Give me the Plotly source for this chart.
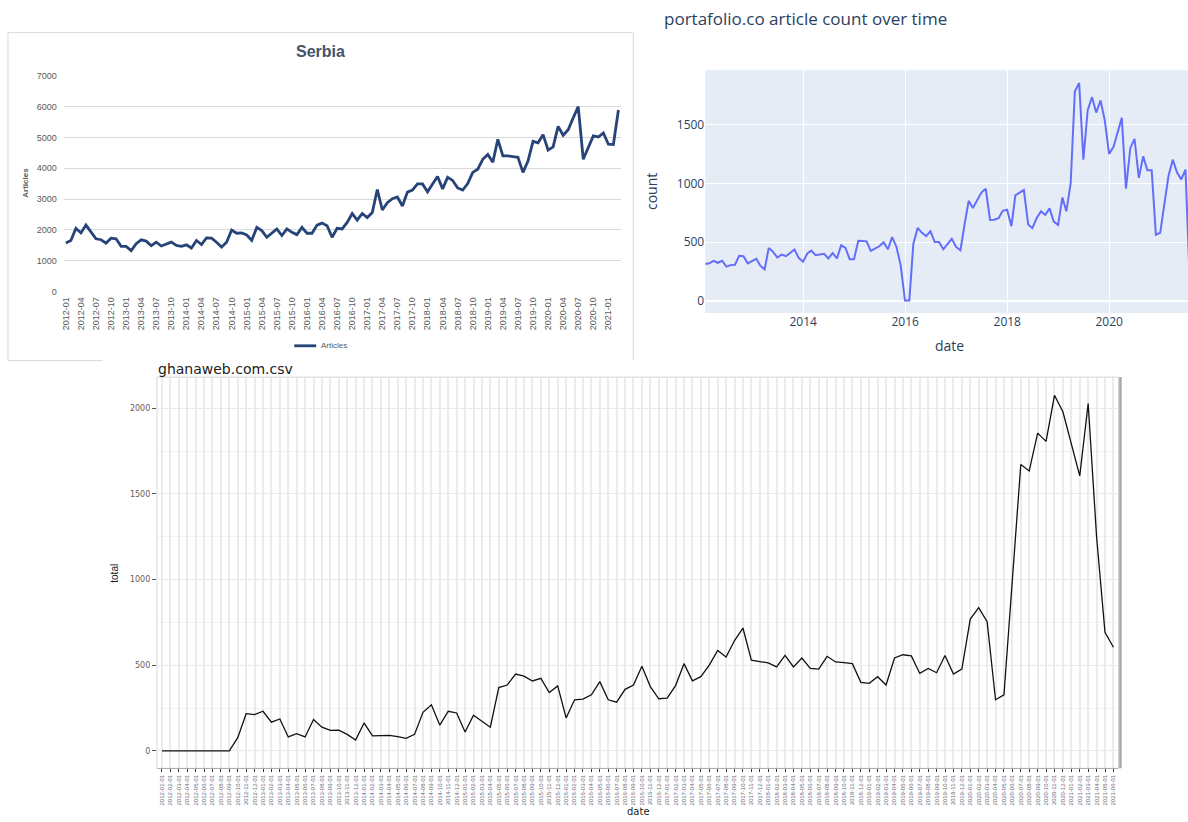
import calendar
import plotly.graph_objects as go

W, H = 1188, 822


def px(x):
    return x / W


def py(y):
    return 1 - y / H


# ---------------- Serbia (monthly, 2012-01 .. 2021-03) ----------------
serbia_months = [f"{y}-{m:02d}" for y in range(2012, 2022) for m in range(1, 13)][:111]
serbia_articles = [
    1570, 1655, 2050, 1900, 2155, 1945, 1710, 1680, 1570, 1730, 1710, 1465,
    1465, 1325, 1550, 1675, 1635, 1485, 1600, 1475, 1525, 1600, 1495, 1465,
    1515, 1410, 1655, 1525, 1740, 1730, 1600, 1440, 1600, 1995, 1890, 1900,
    1835, 1655, 2080, 1975, 1760, 1890, 2030, 1815, 2030, 1920, 1845, 2080,
    1890, 1890, 2155, 2220, 2135, 1760, 2050, 2030, 2240, 2530, 2315, 2530,
    2400, 2560, 3310, 2645, 2880, 3010, 3065, 2775, 3225, 3290, 3490, 3490,
    3235, 3490, 3735, 3330, 3705, 3605, 3360, 3290, 3500, 3865, 3970, 4290,
    4450, 4195, 4940, 4400, 4400, 4375, 4355, 3865, 4235, 4875, 4825, 5090,
    4590, 4695, 5360, 5070, 5250, 5635, 6000, 4290, 4695, 5050, 5015, 5145,
    4780, 4770, 5890,
]
serbia_ticks = serbia_months[::3]

# ---------------- portafolio.co (month-end, 2012-01 .. 2021-07) ----------------
portafolio_counts = [
    312, 318, 340, 323, 340, 290, 303, 306, 382, 379, 318, 340,
    357, 298, 267, 450, 416, 368, 393, 379, 405, 436, 365, 332,
    402, 427, 388, 393, 399, 360, 405, 360, 472, 450, 354, 354,
    511, 509, 506, 424, 444, 464, 497, 438, 542, 458, 303, 0,
    0, 486, 621, 579, 551, 593, 500, 500, 438, 486, 528, 458,
    430, 640, 852, 790, 852, 922, 956, 689, 691, 703, 767, 776,
    635, 899, 922, 944, 649, 618, 705, 762, 731, 787, 675, 646,
    880, 762, 1000, 1787, 1858, 1203, 1625, 1737, 1605, 1709, 1540, 1253,
    1310, 1442, 1560, 956, 1301, 1380, 1048, 1231, 1113, 1113, 562, 579,
    838, 1062, 1203, 1096, 1034, 1119, 150,
]
portafolio_dates = []
for i in range(len(portafolio_counts)):
    yy, mm = 2012 + i // 12, i % 12 + 1
    portafolio_dates.append(f"{yy}-{mm:02d}-{calendar.monthrange(yy, mm)[1]:02d}")
portafolio_yticks = [0, 500, 1000, 1500]

# ---------------- ghanaweb.com (monthly, 2012-01 .. 2021-06) ----------------
ghana_dates = [f"{y}-{m:02d}-01" for y in range(2012, 2022) for m in range(1, 13)][:114]
ghana_total = [
    0, 0, 0, 0, 0, 0, 0, 0, 0,
    77, 217, 211, 231, 167, 186, 81, 100, 81, 183,
    138, 119, 121, 96, 63, 163, 87, 87, 90, 83,
    73, 96, 225, 269, 150, 231, 221, 110, 208, 173,
    138, 369, 384, 448, 436, 408, 423, 340, 379, 192,
    298, 302, 327, 404, 298, 284, 359, 384, 494, 375,
    304, 308, 381, 509, 409, 433, 500, 586, 548, 644,
    717, 529, 523, 513, 490, 557, 490, 542, 481, 477,
    552, 519, 515, 509, 400, 394, 433, 384, 542, 561,
    554, 452, 481, 456, 557, 448, 477, 769, 836, 754,
    298, 327, 1000, 1672, 1634, 1855, 1807, 2076, 1980, 1788,
    1605, 2028, 1250, 692, 605,
]
ghana_yticks = [0, 500, 1000, 1500, 2000]

SERBIA_BLUE = "#264478"
XL_GREY = "#595959"

fig = go.Figure()
fig.add_trace(go.Scatter(x=serbia_months, y=serbia_articles, mode="lines",
                         line=dict(color=SERBIA_BLUE, width=2.8),
                         xaxis="x", yaxis="y", showlegend=False, name="Articles"))
fig.add_trace(go.Scatter(x=portafolio_dates, y=portafolio_counts, mode="lines",
                         line=dict(color="#636EFA", width=2),
                         xaxis="x2", yaxis="y2", showlegend=False, name="count"))
fig.add_trace(go.Scatter(x=ghana_dates, y=ghana_total, mode="lines",
                         line=dict(color="#111111", width=1.3),
                         xaxis="x3", yaxis="y3", showlegend=False, name="total"))

fig.update_layout(
    width=W, height=H,
    margin=dict(l=0, r=0, t=0, b=0),
    paper_bgcolor="white", plot_bgcolor="rgba(0,0,0,0)",
    showlegend=False,
    # Serbia
    xaxis=dict(domain=[px(61), px(620)], anchor="y", type="category",
               range=[-0.4, 110.6], tickmode="array", tickvals=serbia_ticks,
               tickangle=-90, tickfont=dict(family="Liberation Sans", size=9, color=XL_GREY),
               showgrid=False, zeroline=False, showline=False, ticks="",
               ticklabelstandoff=3),
    yaxis=dict(domain=[py(290), py(71.7)], anchor="x", range=[0, 7000],
               tickmode="array", tickvals=list(range(0, 7001, 1000)),
               tickfont=dict(family="Liberation Sans", size=9, color=XL_GREY),
               showgrid=True, gridcolor="#D9D9D9", gridwidth=1, zeroline=False,
               showline=False, ticks="", ticklabelstandoff=6),
    # portafolio
    xaxis2=dict(domain=[px(704), 1.0], anchor="y2", type="date",
                range=["2012-01-31", "2021-07-18"], tick0="2014-01-01", dtick="M24",
                tickformat="%Y",
                tickfont=dict(family="Open Sans", size=12, color="#2a3f5f"),
                showgrid=True, gridcolor="white", gridwidth=1, zeroline=False,
                showline=False, ticks=""),
    yaxis2=dict(domain=[py(311.7), py(66)], anchor="x2", range=[-105, 1967],
                tickmode="array", tickvals=portafolio_yticks,
                tickfont=dict(family="Open Sans", size=12, color="#2a3f5f"),
                showgrid=True, gridcolor="white", gridwidth=1,
                zeroline=True, zerolinecolor="white", zerolinewidth=2,
                showline=False, ticks=""),
    # ghanaweb
    xaxis3=dict(domain=[px(154.3), px(1118.3)], anchor="y3", type="category",
                range=[-0.6, 113.6], tickmode="array", tickvals=ghana_dates,
                ticktext=ghana_dates, tickangle=-90,
                tickfont=dict(family="Liberation Sans", size=6, color="#6a6a7a"),
                showgrid=True, gridcolor="#EBEBEB", gridwidth=2, zeroline=False,
                showline=True, linecolor="#222222", linewidth=1.2,
                ticks="outside", ticklen=3, tickcolor="#333333", tickwidth=1),
    yaxis3=dict(domain=[py(772.7), py(376.7)], anchor="x3", range=[-102, 2182],
                tickmode="array", tickvals=ghana_yticks,
                tickfont=dict(family="DejaVu Sans", size=8, color="#6b5a5a"),
                showgrid=True, gridcolor="#EBEBEB", gridwidth=1,
                minor=dict(dtick=250, tick0=0, showgrid=True, gridcolor="#F3F3F3", gridwidth=1),
                zeroline=False, showline=False,
                ticks="outside", ticklen=4, tickcolor="#555555", tickwidth=1),
)

shapes = [
    # Serbia chart frame
    dict(type="line", xref="paper", yref="paper", x0=px(5), x1=px(632), y0=py(28), y1=py(28),
         line=dict(color="#D9D9D9", width=1)),
    dict(type="line", xref="paper", yref="paper", x0=px(5), x1=px(5), y0=py(28), y1=py(360),
         line=dict(color="#D9D9D9", width=1)),
    dict(type="line", xref="paper", yref="paper", x0=px(632), x1=px(632), y0=py(28), y1=py(360),
         line=dict(color="#D9D9D9", width=1)),
    dict(type="line", xref="paper", yref="paper", x0=px(5), x1=px(100), y0=py(360), y1=py(360),
         line=dict(color="#D9D9D9", width=1)),
    # Serbia legend swatch
    dict(type="line", xref="paper", yref="paper", x0=px(292), x1=px(314), y0=py(345), y1=py(345),
         line=dict(color=SERBIA_BLUE, width=2.8)),
    # portafolio plot background
    dict(type="rect", xref="x2 domain", yref="y2 domain", x0=0, x1=1, y0=0, y1=1,
         fillcolor="#E5ECF6", line=dict(width=0), layer="below"),
    # ghanaweb panel border
    dict(type="rect", xref="x3 domain", yref="y3 domain", x0=0, x1=1, y0=0, y1=1,
         line=dict(color="#D4D4D4", width=1), layer="above"),
    dict(type="line", xref="x3 domain", yref="y3 domain", x0=1.002, x1=1.002, y0=0, y1=1,
         line=dict(color="#A8A8A8", width=2.5)),
]
fig.update_layout(shapes=shapes)

annotations = [
    dict(text="<b>Serbia</b>", x=px(318), y=py(47), xref="paper", yref="paper",
         showarrow=False, xanchor="center", yanchor="middle",
         font=dict(family="Liberation Sans", size=16, color="#44546A")),
    dict(text="<b>Articles</b>", x=px(23), y=py(180), xref="paper", yref="paper",
         showarrow=False, textangle=-90, xanchor="center", yanchor="middle",
         font=dict(family="Liberation Sans", size=8, color=XL_GREY)),
    dict(text="Articles", x=px(317), y=py(345), xref="paper", yref="paper",
         showarrow=False, xanchor="left", yanchor="middle",
         font=dict(family="Liberation Sans", size=8, color=XL_GREY)),
    dict(text="portafolio.co article count over time", x=px(661), y=py(14),
         xref="paper", yref="paper", showarrow=False, xanchor="left", yanchor="middle",
         font=dict(family="Open Sans", size=17, color="#2a3f5f")),
    dict(text="count", x=px(650), y=py(189), xref="paper", yref="paper",
         showarrow=False, textangle=-90, xanchor="center", yanchor="middle",
         font=dict(family="Open Sans", size=14, color="#2a3f5f")),
    dict(text="date", x=px(949), y=py(345), xref="paper", yref="paper",
         showarrow=False, xanchor="center", yanchor="middle",
         font=dict(family="Open Sans", size=14, color="#2a3f5f")),
    dict(text="ghanaweb.com.csv", x=px(153), y=py(368), xref="paper", yref="paper",
         showarrow=False, xanchor="left", yanchor="middle",
         font=dict(family="DejaVu Sans", size=14, color="#222222")),
    dict(text="total", x=px(111), y=py(575), xref="paper", yref="paper",
         showarrow=False, textangle=-90, xanchor="center", yanchor="middle",
         font=dict(family="Liberation Sans Narrow, Liberation Sans", size=10, color="#222222")),
    dict(text="date", x=px(637), y=py(816), xref="paper", yref="paper",
         showarrow=False, xanchor="center", yanchor="middle",
         font=dict(family="DejaVu Sans", size=10, color="#222222")),
]
fig.update_layout(annotations=annotations)

fig.write_html(
    "out.html",
    config={"displayModeBar": False},
    post_script="document.body.style.margin='0';document.body.style.padding='0';"
                "document.body.style.overflow='hidden';",
)
